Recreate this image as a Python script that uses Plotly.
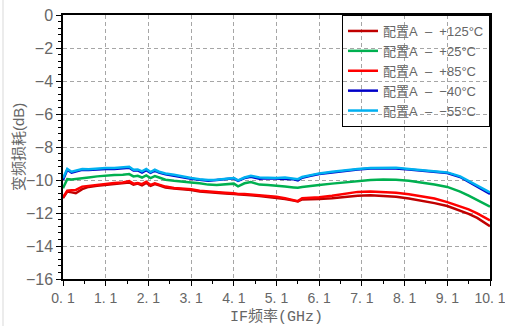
import plotly.graph_objects as go

# IF frequency sweep (GHz)
freq = [0.1, 0.2, 0.3, 0.4, 0.55, 0.7, 0.9, 1.1, 1.3, 1.5,
        1.65, 1.75, 1.85, 1.95, 2.05, 2.15, 2.25, 2.35, 2.5, 2.7,
        2.9, 3.1, 3.3, 3.5, 3.7, 3.9, 4.1, 4.2, 4.35, 4.5,
        4.7, 4.9, 5.1, 5.3, 5.5, 5.6, 5.7, 5.9, 6.1, 6.4,
        6.7, 7.0, 7.3, 7.6, 7.9, 8.2, 8.5, 8.8, 9.1, 9.4,
        9.6, 9.8, 9.95, 10.1]

# Conversion loss (dB) per temperature
loss_p125 = [-11.1, -10.7, -10.75, -10.8, -10.55, -10.42, -10.35, -10.3, -10.25, -10.22,
             -10.15, -10.28, -10.22, -10.32, -10.18, -10.35, -10.25, -10.32, -10.45, -10.52,
             -10.56, -10.6, -10.7, -10.75, -10.78, -10.82, -10.85, -10.88, -10.9, -10.93,
             -10.97, -11.02, -11.08, -11.15, -11.25, -11.3, -11.18, -11.17, -11.15, -11.1,
             -11.02, -10.95, -10.92, -10.95, -11.02, -11.12, -11.25, -11.4, -11.58, -11.85,
             -12.05, -12.3, -12.55, -12.8]
loss_p25 = [-10.5, -9.95, -9.97, -9.93, -9.9, -9.85, -9.78, -9.72, -9.7, -9.68,
            -9.64, -9.78, -9.75, -9.85, -9.72, -9.88, -9.76, -9.85, -9.98, -10.05,
            -10.12, -10.15, -10.2, -10.28, -10.3, -10.25, -10.22, -10.38, -10.2, -10.12,
            -10.28, -10.3, -10.37, -10.4, -10.45, -10.47, -10.42, -10.38, -10.3, -10.22,
            -10.15, -10.05, -10.0, -9.97, -9.98, -10.05, -10.15, -10.27, -10.42, -10.7,
            -10.95, -11.2, -11.4, -11.62]
loss_p85 = [-11.05, -10.65, -10.62, -10.6, -10.4, -10.35, -10.28, -10.22, -10.18, -10.15,
            -10.06, -10.22, -10.18, -10.25, -10.1, -10.3, -10.2, -10.28, -10.4, -10.48,
            -10.52, -10.56, -10.65, -10.7, -10.74, -10.77, -10.8, -10.85, -10.85, -10.88,
            -10.92, -10.96, -11.02, -11.1, -11.2, -11.28, -11.1, -11.08, -11.04, -10.95,
            -10.84, -10.72, -10.7, -10.72, -10.78, -10.86, -10.98, -11.12, -11.34, -11.6,
            -11.78, -12.02, -12.25, -12.45]
loss_m40 = [-10.0, -9.38, -9.55, -9.5, -9.38, -9.4, -9.35, -9.34, -9.33, -9.3,
            -9.26, -9.42, -9.42, -9.55, -9.4, -9.56, -9.43, -9.55, -9.66, -9.74,
            -9.84, -9.92, -9.99, -10.04, -10.0, -9.94, -9.9, -10.05, -9.88, -9.8,
            -9.92, -9.9, -9.92, -9.9, -9.96, -10.02, -9.86, -9.74, -9.64, -9.54,
            -9.44, -9.37, -9.31, -9.29, -9.3, -9.37, -9.44, -9.5, -9.58, -9.82,
            -10.1, -10.38, -10.62, -10.85]
loss_m55 = [-9.9, -9.33, -9.5, -9.42, -9.33, -9.35, -9.3, -9.28, -9.27, -9.25,
            -9.2, -9.38, -9.36, -9.48, -9.33, -9.52, -9.38, -9.5, -9.6, -9.68,
            -9.8, -9.88, -9.95, -10.0, -9.98, -9.92, -9.88, -10.02, -9.85, -9.74,
            -9.85, -9.86, -9.88, -9.85, -9.9, -9.95, -9.82, -9.7, -9.6, -9.5,
            -9.4, -9.33, -9.27, -9.25, -9.25, -9.33, -9.4, -9.47, -9.54, -9.78,
            -10.05, -10.3, -10.52, -10.75]

NB = "\u00a0"
series_names = [f"配置A{NB}{NB}–{NB}{NB}+125°C", f"配置A{NB}{NB}–{NB}{NB}+25°C",
                f"配置A{NB}{NB}–{NB}{NB}+85°C", f"配置A{NB}{NB}–{NB}{NB}−40°C",
                f"配置A{NB}{NB}–{NB}{NB}−55°C"]
series_values = [loss_p125, loss_p25, loss_p85, loss_m40, loss_m55]
series_colors = ["#C00000", "#00B050", "#FF0000", "#0000C8", "#00B0F0"]

x_tick_vals = [0.1, 1.1, 2.1, 3.1, 4.1, 5.1, 6.1, 7.1, 8.1, 9.1, 10.1]
x_tick_text = [f"{v:.1f}".replace(".", f".{NB}") for v in x_tick_vals]
y_title = "变频损耗(dB)"
x_title = "IF频率(GHz)"

narrow = "Liberation Sans Narrow, Liberation Sans, Noto Sans CJK SC, sans-serif"
mono = "Liberation Mono, Noto Sans CJK SC, monospace"
sans = "Liberation Sans, Noto Sans CJK SC, sans-serif"
grey = "#666666"

fig = go.Figure()
for name, vals, col in zip(series_names, series_values, series_colors):
    fig.add_trace(go.Scatter(x=freq, y=vals, mode="lines", name=name,
                             line=dict(color=col, width=2.5)))

axis_common = dict(
    showline=True, linecolor="black", linewidth=1.5, mirror=True,
    showgrid=True, gridcolor="#A6A6A6", griddash="4px,3px", gridwidth=1,
    zeroline=False, ticks="outside", ticklen=5, tickcolor="black",
    automargin=False, ticklabeloverflow="allow",
)

fig.update_layout(
    width=505, height=326,
    margin=dict(l=63, r=15, t=15, b=47),
    paper_bgcolor="white", plot_bgcolor="white",
    font=dict(family=sans, color=grey, size=14),
    xaxis=dict(range=[0.1, 10.1], tickvals=x_tick_vals, ticktext=x_tick_text,
               tickfont=dict(family=narrow, size=14, color=grey),
               minor=dict(dtick=0.5, tick0=0.1, ticks="outside", ticklen=3,
                          tickcolor="black", showgrid=False),
               title=dict(text=x_title, font=dict(family=mono, size=15, color=grey)),
               **axis_common),
    yaxis=dict(range=[-16, 0], dtick=2, tick0=0,
               tickfont=dict(family=sans, size=16, color=grey),
               minor=dict(dtick=0.4, tick0=0, ticks="outside", ticklen=3,
                          tickcolor="black", showgrid=False),
               **axis_common),
    legend=dict(x=1, y=1, xanchor="right", yanchor="top",
                bgcolor="rgba(0,0,0,0)", bordercolor="black", borderwidth=1,
                font=dict(family=sans, size=13, color=grey),
                itemwidth=30, tracegroupgap=0),
    showlegend=True,
)

# vertical y-axis title, placed just left of the tick labels
fig.add_annotation(text=y_title, textangle=-90, xref="paper", yref="paper",
                   x=-45 / 427, y=0.5, xanchor="center", yanchor="middle",
                   showarrow=False, font=dict(family=sans, size=15, color=grey))

# light frame line at the left edge of the figure
fig.add_shape(type="line", xref="paper", yref="paper",
              x0=-60 / 427, x1=-60 / 427, y0=-47 / 264, y1=1 + 15 / 264,
              line=dict(color="#D9D9D9", width=1))

fig.write_html("out.html")
